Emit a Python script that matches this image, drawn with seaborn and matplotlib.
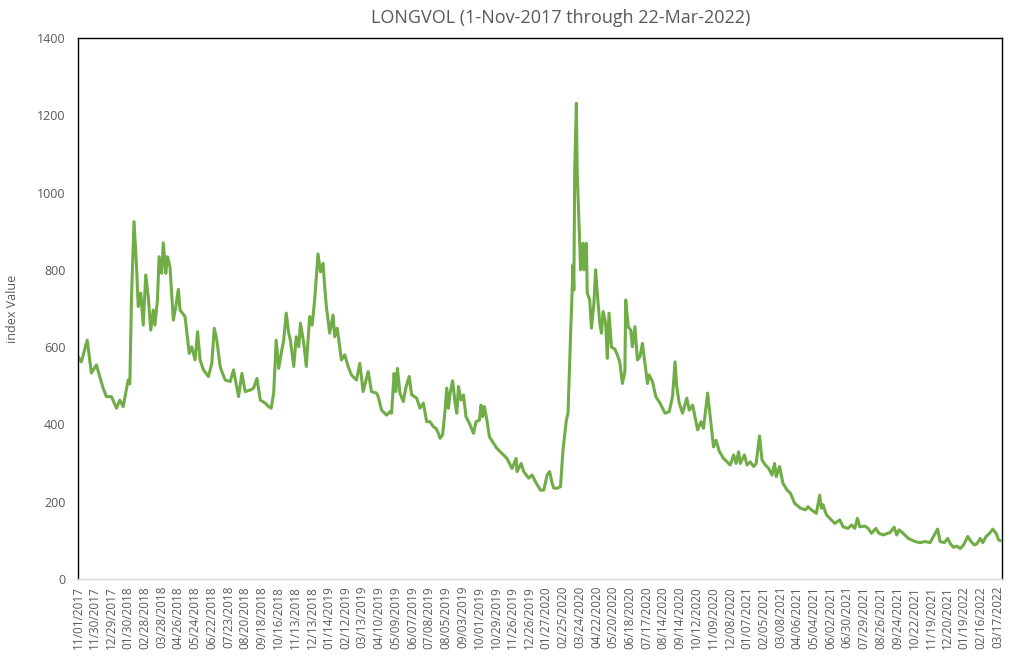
import matplotlib
matplotlib.use("Agg")
import matplotlib.pyplot as plt
import pandas as pd
import seaborn as sns

title = "LONGVOL (1-Nov-2017 through 22-Mar-2022)"

tick_labels = [
    "11/01/2017", "11/30/2017", "12/29/2017", "01/30/2018", "02/28/2018", "03/28/2018",
    "04/26/2018", "05/24/2018", "06/22/2018", "07/23/2018", "08/20/2018", "09/18/2018",
    "10/16/2018", "11/13/2018", "12/13/2018", "01/14/2019", "02/12/2019", "03/13/2019",
    "04/10/2019", "05/09/2019", "06/07/2019", "07/08/2019", "08/05/2019", "09/03/2019",
    "10/01/2019", "10/29/2019", "11/26/2019", "12/26/2019", "01/27/2020", "02/25/2020",
    "03/24/2020", "04/22/2020", "05/20/2020", "06/18/2020", "07/17/2020", "08/14/2020",
    "09/14/2020", "10/12/2020", "11/09/2020", "12/08/2020", "01/07/2021", "02/05/2021",
    "03/08/2021", "04/06/2021", "05/04/2021", "06/02/2021", "06/30/2021", "07/29/2021",
    "08/26/2021", "09/24/2021", "10/22/2021", "11/19/2021", "12/20/2021", "01/19/2022",
    "02/16/2022", "03/17/2022",
]

# trading-day number (0 = 1-Nov-2017) of each sampled observation
day = [
    0, 4, 11, 16, 22, 30, 34, 40, 46, 50, 54, 60, 62, 64, 67, 70, 72, 75, 78, 81,
    84, 87, 90, 92, 95, 97, 100, 102, 105, 107, 110, 114, 117, 120, 122, 128, 133, 136, 140, 143,
    146, 150, 156, 160, 163, 166, 170, 172, 176, 182, 186, 192, 196, 200, 206, 210, 214, 218, 224, 228,
    231, 234, 237, 240, 243, 246, 249, 252, 254, 258, 261, 264, 266, 270, 273, 277, 280, 283, 287, 290,
    293, 295, 297, 301, 305, 307, 310, 315, 319, 323, 327, 333, 337, 341, 347, 351, 357, 359, 363, 369,
    373, 375, 378, 380, 382, 385, 389, 392, 396, 399, 405, 409, 413, 417, 421, 425, 428, 431, 433, 436,
    439, 441, 443, 445, 448, 451, 453, 455, 458, 461, 464, 468, 473, 476, 480, 482, 484, 486, 489, 492,
    497, 501, 507, 513, 519, 524, 525, 530, 533, 539, 543, 548, 553, 557, 561, 564, 567, 569, 573, 577,
    580, 584, 586, 589, 592, 593, 594, 596, 597, 600, 601, 604, 605, 608, 609, 612, 614, 617, 619, 621,
    624, 626, 628, 631, 633, 635, 638, 642, 645, 648, 651, 654, 655, 658, 661, 663, 666, 669, 672, 675,
    678, 681, 683, 687, 691, 696, 702, 707, 711, 714, 716, 719, 723, 728, 731, 735, 741, 745, 748, 753,
    757, 760, 763, 767, 772, 778, 780, 784, 787, 790, 792, 797, 800, 804, 808, 811, 815, 818, 822, 826,
    830, 833, 835, 839, 843, 848, 852, 857, 864, 870, 873, 877, 883, 887, 889, 891, 895, 899, 905, 911,
    915, 921, 925, 929, 932, 935, 941, 945, 949, 954, 958, 963, 968, 971, 976, 979, 982, 987, 993, 1001,
    1007, 1013, 1019, 1023, 1028, 1031, 1036, 1040, 1043, 1047, 1051, 1055, 1059, 1064, 1068, 1072, 1075, 1079, 1082, 1086,
    1090, 1094, 1098, 1101, 1103,
]

value = [
    575, 562, 618, 533, 554, 494, 472, 472, 442, 463, 446, 515, 505, 731, 925, 808, 705, 740, 657, 787,
    731, 644, 696, 657, 722, 834, 791, 870, 791, 834, 808, 670, 705, 750, 696, 679, 584, 601, 567, 640,
    567, 541, 524, 558, 649, 618, 550, 537, 515, 511, 541, 472, 532, 485, 489, 494, 519, 463, 455, 446,
    442, 481, 618, 545, 584, 618, 688, 636, 618, 550, 627, 601, 662, 610, 550, 679, 657, 722, 841, 795,
    817, 757, 705, 636, 683, 627, 649, 567, 580, 550, 528, 515, 558, 485, 537, 485, 481, 472, 437, 424,
    433, 429, 532, 485, 545, 481, 459, 494, 524, 477, 468, 442, 455, 407, 407, 394, 390, 377, 364, 373,
    437, 494, 442, 481, 513, 455, 429, 498, 463, 476, 420, 403, 377, 407, 411, 450, 420, 446, 411, 368,
    351, 338, 325, 312, 286, 312, 278, 299, 278, 261, 269, 248, 230, 230, 269, 278, 248, 235, 235, 239,
    334, 411, 429, 627, 813, 748, 1058, 1231, 1050, 869, 800, 869, 800, 869, 740, 722, 649, 714, 800, 740,
    662, 636, 692, 662, 571, 688, 600, 595, 580, 560, 506, 537, 722, 653, 644, 601, 653, 567, 575, 610,
    558, 506, 528, 511, 472, 455, 429, 433, 472, 562, 498, 455, 429, 468, 437, 450, 386, 407, 390, 481,
    403, 342, 359, 330, 312, 299, 295, 321, 299, 329, 299, 321, 295, 303, 291, 299, 370, 308, 295, 286,
    269, 299, 265, 291, 248, 230, 222, 196, 183, 179, 187, 179, 170, 217, 183, 192, 166, 157, 144, 153,
    135, 131, 140, 131, 157, 135, 137, 131, 118, 131, 118, 114, 118, 120, 134, 114, 127, 118, 105, 97,
    94, 97, 94, 110, 129, 97, 94, 105, 92, 82, 85, 79, 88, 110, 97, 88, 91, 105, 94, 110,
    118, 129, 118, 101, 99,
]

sns.set_theme(style="white")
plt.rcParams["font.family"] = ["Open Sans", "DejaVu Sans"]

W, H = 1015, 661
fig = plt.figure(figsize=(W / 100, H / 100), dpi=100)
left, right, top, bottom = 78, 1002, 38, 579
ax = fig.add_axes([left / W, 1 - bottom / H, (right - left) / W, (bottom - top) / H])

df = pd.DataFrame({"day": day, "value": value})
sns.lineplot(data=df, x="day", y="value", ax=ax, color="#70AD47", linewidth=2.2)

ax.set_xlim(0, 1105)
ax.set_ylim(0, 1400)
ax.set_yticks(range(0, 1401, 200))
ax.set_xticks([20 * i for i in range(len(tick_labels))])
ax.set_xticklabels(tick_labels, rotation=90, fontsize=8.5, color="#595959")
ax.tick_params(axis="y", labelsize=9, labelcolor="#595959", length=0, pad=9)
ax.tick_params(axis="x", length=0, pad=5)
ax.set_xlabel("")
ax.set_ylabel("index Value", fontsize=9, color="#595959")
ax.yaxis.set_label_coords(-0.064, 0.5)

for s in ["left", "top", "right"]:
    ax.spines[s].set_color("black")
    ax.spines[s].set_linewidth(1.0)
ax.spines["bottom"].set_color("#D9D9D9")
ax.spines["bottom"].set_linewidth(1.0)

fig.text(561 / W, 1 - 18 / H, title, ha="center", va="center", fontsize=13, color="#595959")

fig.savefig("out.png", dpi=100, facecolor="white")
